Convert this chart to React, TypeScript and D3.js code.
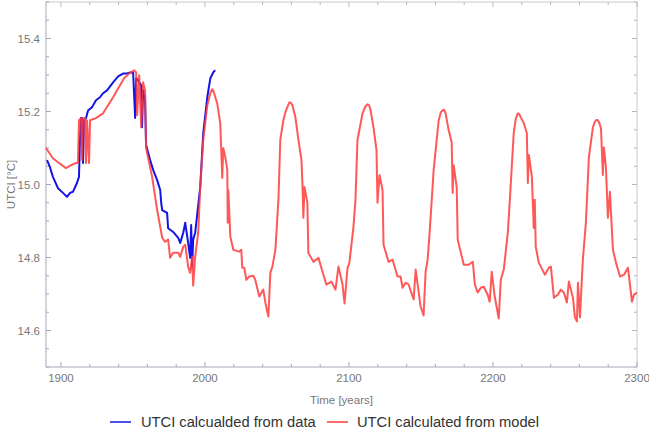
import React from 'react';
import * as d3 from 'd3';

const dataYears = [1890.3, 1892.3, 1894.4, 1897.9, 1901.4, 1904.2, 1906.3, 1908.3, 1911.1, 1912.5, 1913.2, 1913.9, 1914.6, 1915.3, 1916.0, 1917.4, 1918.8, 1921.6, 1924.3, 1927.1, 1929.2, 1932.0, 1934.1, 1936.2, 1939.7, 1943.1, 1945.9, 1948.0, 1950.1, 1951.5, 1952.2, 1953.6, 1955.7, 1956.3, 1957.0, 1958.4, 1959.1, 1961.9, 1964.0, 1966.8, 1968.9, 1969.6, 1970.3, 1973.7, 1974.4, 1977.9, 1981.4, 1982.8, 1984.9, 1986.3, 1988.3, 1989.7, 1990.4, 1991.1, 1991.8, 1993.2, 1996.7, 1998.8, 2001.6, 2003.7, 2005.7, 2007.1];
const dataValues = [15.067, 15.048, 15.021, 14.99, 14.977, 14.966, 14.977, 14.98, 15.004, 15.021, 15.122, 15.182, 15.182, 15.059, 15.176, 15.182, 15.203, 15.212, 15.231, 15.239, 15.25, 15.258, 15.269, 15.28, 15.296, 15.304, 15.304, 15.307, 15.307, 15.182, 15.291, 15.285, 15.272, 15.157, 15.258, 15.231, 15.108, 15.067, 15.04, 15.012, 14.985, 14.95, 14.93, 14.922, 14.88, 14.87, 14.854, 14.84, 14.868, 14.895, 14.84, 14.799, 14.889, 14.775, 14.849, 14.868, 14.993, 15.141, 15.239, 15.291, 15.307, 15.313];

// UTCI from the model
const modelYears = [1889.6, 1894.4, 1898.6, 1903.5, 1907.0, 1910.4, 1911.8, 1912.5, 1913.9, 1914.6, 1915.3, 1916.7, 1917.4, 1918.1, 1919.5, 1920.2, 1924.3, 1929.2, 1932.7, 1936.2, 1939.7, 1943.8, 1947.3, 1950.8, 1951.5, 1952.2, 1952.9, 1954.3, 1955.7, 1957.0, 1958.4, 1959.1, 1963.3, 1966.8, 1970.3, 1972.3, 1974.4, 1975.8, 1977.9, 1981.4, 1982.8, 1984.9, 1986.3, 1988.3, 1989.7, 1991.1, 1991.8, 1993.2, 1995.3, 1996.7, 1998.8, 2001.6, 2003.7, 2005.0, 2005.7, 2008.5, 2010.6, 2011.3, 2012.0, 2012.7, 2014.1, 2015.5, 2015.8, 2016.2, 2017.6, 2019.7, 2023.8, 2025.2, 2025.9, 2027.3, 2028.7, 2030.8, 2033.6, 2034.9, 2037.7, 2040.5, 2041.9, 2044.0, 2045.4, 2046.8, 2048.9, 2051.0, 2052.3, 2054.4, 2056.0, 2057.2, 2058.6, 2059.6, 2060.7, 2062.8, 2064.9, 2067.0, 2067.7, 2068.3, 2069.1, 2071.1, 2071.8, 2075.3, 2078.8, 2081.6, 2084.3, 2087.8, 2090.6, 2092.7, 2095.5, 2096.9, 2099.0, 2100.3, 2103.1, 2104.5, 2105.9, 2109.4, 2111.3, 2112.9, 2114.0, 2115.0, 2117.0, 2119.1, 2119.8, 2121.2, 2123.3, 2124.0, 2127.5, 2130.3, 2133.7, 2135.8, 2137.2, 2139.3, 2141.4, 2144.9, 2146.3, 2149.7, 2151.8, 2153.2, 2154.6, 2156.0, 2158.8, 2162.3, 2163.8, 2165.0, 2166.0, 2167.1, 2169.2, 2171.3, 2172.0, 2172.7, 2174.8, 2175.5, 2179.7, 2183.1, 2186.0, 2187.4, 2189.4, 2191.5, 2193.6, 2196.3, 2197.7, 2199.1, 2201.2, 2204.0, 2205.4, 2207.5, 2210.3, 2211.7, 2214.4, 2215.8, 2217.2, 2218.2, 2219.3, 2221.4, 2223.5, 2224.2, 2224.9, 2227.0, 2228.3, 2229.0, 2229.7, 2231.8, 2236.0, 2238.8, 2240.2, 2242.3, 2245.0, 2247.1, 2249.2, 2251.3, 2252.7, 2255.5, 2256.9, 2258.3, 2259.0, 2260.4, 2262.4, 2264.5, 2266.6, 2269.4, 2270.5, 2271.5, 2272.5, 2273.6, 2275.0, 2276.3, 2277.0, 2278.4, 2279.8, 2281.2, 2283.3, 2285.4, 2288.2, 2291.0, 2293.7, 2296.5, 2297.9, 2300.0];
const modelValues = [15.1, 15.072, 15.059, 15.045, 15.053, 15.059, 15.059, 15.176, 15.182, 15.067, 15.182, 15.182, 15.059, 15.176, 15.059, 15.176, 15.182, 15.195, 15.217, 15.239, 15.263, 15.291, 15.304, 15.313, 15.31, 15.307, 15.19, 15.299, 15.157, 15.28, 15.258, 15.1, 15.021, 14.93, 14.854, 14.843, 14.849, 14.799, 14.813, 14.813, 14.802, 14.829, 14.835, 14.775, 14.758, 14.802, 14.723, 14.802, 14.868, 14.993, 15.122, 15.217, 15.25, 15.261, 15.258, 15.222, 15.168, 15.094, 15.018, 15.1, 15.075, 15.04, 14.895, 14.985, 14.857, 14.821, 14.816, 14.821, 14.772, 14.772, 14.739, 14.748, 14.75, 14.739, 14.693, 14.712, 14.677, 14.638, 14.758, 14.775, 14.821, 14.958, 15.122, 15.176, 15.2, 15.212, 15.225, 15.224, 15.217, 15.184, 15.122, 15.067, 14.999, 14.909, 14.993, 14.95, 14.813, 14.788, 14.799, 14.761, 14.726, 14.734, 14.712, 14.775, 14.726, 14.674, 14.772, 14.786, 14.884, 14.958, 15.122, 15.195, 15.213, 15.22, 15.217, 15.203, 15.157, 15.094, 14.95, 15.026, 14.985, 14.835, 14.788, 14.794, 14.748, 14.748, 14.717, 14.731, 14.726, 14.685, 14.767, 14.666, 14.641, 14.761, 14.794, 14.868, 15.04, 15.176, 15.198, 15.203, 15.205, 15.195, 15.149, 15.116, 14.977, 15.053, 14.993, 14.849, 14.78, 14.78, 14.788, 14.726, 14.704, 14.717, 14.72, 14.698, 14.679, 14.761, 14.693, 14.633, 14.739, 14.767, 14.868, 14.958, 15.141, 15.18, 15.195, 15.193, 15.184, 15.168, 15.141, 15.004, 15.081, 15.021, 14.881, 14.958, 14.829, 14.786, 14.753, 14.772, 14.775, 14.69, 14.698, 14.712, 14.704, 14.677, 14.734, 14.69, 14.636, 14.625, 14.731, 14.636, 14.794, 14.895, 15.075, 15.157, 15.17, 15.176, 15.177, 15.171, 15.154, 15.026, 15.102, 15.048, 14.909, 14.98, 14.821, 14.786, 14.748, 14.753, 14.772, 14.679, 14.698, 14.704];

const xMajorTicks = [1900, 2000, 2100, 2200, 2300];
const yMajorTicks = [14.6, 14.8, 15.0, 15.2, 15.4];

const legendLabels = ['UTCI calcualded from data', 'UTCI calculated from model'];
const seriesColors = ['#1414e6', '#ff3b3b'];

const W = 649;
const H = 437;
const M = { left: 46, right: 12, top: 2, bottom: 70 };

export default function App() {
  const x = d3.scaleLinear().domain([1889.6, 2300]).range([M.left, W - M.right]);
  const y = d3.scaleLinear().domain([14.5, 15.5]).range([H - M.bottom, M.top]);

  const line = d3
    .line<[number, number]>()
    .x((d) => x(d[0]))
    .y((d) => y(d[1]));

  const dataPts = dataYears.map((yr, i) => [yr, dataValues[i]] as [number, number]);
  const modelPts = modelYears.map((yr, i) => [yr, modelValues[i]] as [number, number]);

  const x0 = M.left;
  const x1 = W - M.right;
  const y0 = H - M.bottom;
  const y1 = M.top;

  const xMinor = d3.range(1900, 2301, 20);
  const yMinor = d3.range(14.5, 15.501, 0.05);
  const isMajorY = (v: number) => yMajorTicks.some((t) => Math.abs(t - v) < 1e-6);
  const isMajorX = (v: number) => v % 100 === 0;

  const labelFont = 'Liberation Sans, Arial, sans-serif';

  return (
    <svg width={W} height={H} style={{ position: 'absolute', left: 0, top: 0, background: '#fff' }}>
      {/* frame */}
      <line x1={x0} x2={x1} y1={y1} y2={y1} stroke="#c8c8c8" />
      <line x1={x1} x2={x1} y1={y1} y2={y0} stroke="#c8c8c8" />
      <line x1={x0} x2={x1} y1={y0} y2={y0} stroke="#a8a8bc" />
      <line x1={x0} x2={x0} y1={y1} y2={y0} stroke="#a8a8bc" />

      {xMinor.map((v) => {
        const len = isMajorX(v) ? 5 : 3;
        return (
          <g key={'xt' + v}>
            <line x1={x(v)} x2={x(v)} y1={y0} y2={y0 - len} stroke="#a8a8bc" />
            <line x1={x(v)} x2={x(v)} y1={y1} y2={y1 + len} stroke="#b8b8b8" />
          </g>
        );
      })}
      {yMinor.map((v) => {
        const len = isMajorY(v) ? 5 : 3;
        return (
          <g key={'yt' + v.toFixed(2)}>
            <line x1={x0} x2={x0 + len} y1={y(v)} y2={y(v)} stroke="#a8a8bc" />
            <line x1={x1} x2={x1 - len} y1={y(v)} y2={y(v)} stroke="#b8b8b8" />
          </g>
        );
      })}

      {xMajorTicks.map((v) => (
        <text key={'xl' + v} x={x(v)} y={y0 + 15} textAnchor="middle" fontSize={11.5} fill="#777" fontFamily={labelFont}>
          {v}
        </text>
      ))}
      {yMajorTicks.map((v) => (
        <text key={'yl' + v} x={x0 - 6} y={y(v) + 4} textAnchor="end" fontSize={11.5} fill="#777" fontFamily={labelFont}>
          {v.toFixed(1)}
        </text>
      ))}

      <text x={(x0 + x1) / 2} y={404} textAnchor="middle" fontSize={11.5} fill="#777" fontFamily={labelFont}>
        Time [years]
      </text>
      <text
        transform={`translate(15,${(y0 + y1) / 2}) rotate(-90)`}
        textAnchor="middle"
        fontSize={11.5}
        fill="#777"
        fontFamily={labelFont}
      >
        UTCI [°C]
      </text>

      {/* series */}
      <path d={line(dataPts) || ''} fill="none" stroke={seriesColors[0]} strokeWidth={2} strokeLinejoin="round" />
      <path
        d={line(modelPts) || ''}
        fill="none"
        stroke={seriesColors[1]}
        strokeOpacity={0.85}
        strokeWidth={2}
        strokeLinejoin="round"
      />

      {/* legend */}
      <g fontFamily={labelFont} fontSize={14.7} fill="#333">
        <line x1={110} x2={131} y1={422} y2={422} stroke={seriesColors[0]} strokeWidth={1.5} />
        <text x={141} y={427}>{legendLabels[0]}</text>
        <line x1={327} x2={348} y1={422} y2={422} stroke={seriesColors[1]} strokeWidth={1.5} />
        <text x={357} y={427}>{legendLabels[1]}</text>
      </g>
    </svg>
  );
}
